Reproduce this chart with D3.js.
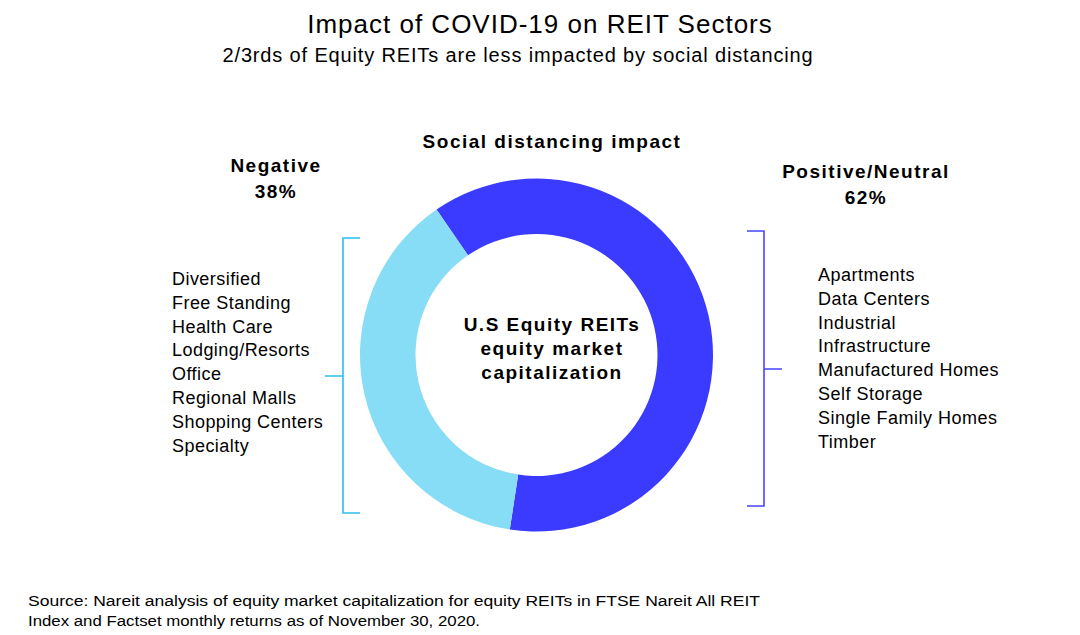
<!DOCTYPE html>
<html>
<head>
<meta charset="utf-8">
<script src="https://cdn.jsdelivr.net/npm/d3@7"></script>
<style>
  html, body { margin: 0; padding: 0; background: #fff; }
  svg { display: block; font-family: "Liberation Sans", Arial, sans-serif; }
</style>
</head>
<body>
<svg id="chart" width="1080" height="635"></svg>
<script>
// ---- data ----
const segmentNames = ["Positive/Neutral", "Negative"];
const segmentShares = [62, 38];
const segmentLabels = ["62%", "38%"];
const negativeSectors = ["Diversified", "Free Standing", "Health Care", "Lodging/Resorts",
  "Office", "Regional Malls", "Shopping Centers", "Specialty"];
const positiveSectors = ["Apartments", "Data Centers", "Industrial", "Infrastructure",
  "Manufactured Homes", "Self Storage", "Single Family Homes", "Timber"];
const titleText = "Impact of COVID-19 on REIT Sectors";
const subtitleText = "2/3rds of Equity REITs are less impacted by social distancing";
const centerLines = ["U.S Equity REITs", "equity market", "capitalization"];
const sourceLines = [
  "Source: Nareit analysis of equity market capitalization for equity REITs in FTSE Nareit All REIT",
  "Index and Factset monthly returns as of November 30, 2020."
];

// ---- style ----
const colors = d3.scaleOrdinal().domain(segmentNames).range(["#3b3bff", "#87ddf6"]);
const bracketColors = d3.scaleOrdinal().domain(segmentNames).range(["#4646ff", "#2dbdef"]);

const svg = d3.select("#chart");
const cx = 536.5, cy = 355, outerR = 176.5, innerR = 121;

// title
svg.append("text").attr("x", 540).attr("y", 33).attr("text-anchor", "middle")
  .style("font-size", "26px").style("letter-spacing", "1px").attr("fill", "#000").text(titleText);
svg.append("text").attr("x", 518).attr("y", 62).attr("text-anchor", "middle")
  .style("font-size", "20px").style("letter-spacing", "0.85px").attr("fill", "#000").text(subtitleText);

// donut
const start = -34.5 * Math.PI / 180;
const pie = d3.pie().sort(null).value(d => d.v).startAngle(start).endAngle(start + 2 * Math.PI);
const arc = d3.arc().innerRadius(innerR).outerRadius(outerR);
const pieData = pie(segmentNames.map((n, i) => ({ n, v: segmentShares[i] })));
const g = svg.append("g").attr("transform", `translate(${cx},${cy})`);
g.selectAll("path").data(pieData).join("path")
  .attr("d", arc).attr("fill", d => colors(d.data.n));

// bold headings
function bold(x, y, t) {
  svg.append("text").attr("x", x).attr("y", y).attr("text-anchor", "middle")
    .style("font-size", "19px").style("font-weight", "bold").style("letter-spacing", "1.5px")
    .attr("fill", "#000").text(t);
}
bold(552, 148, "Social distancing impact");
bold(276, 172, segmentNames[1].replace("Positive/Neutral", "") || "Negative");
bold(276, 198, segmentLabels[1]);
bold(866, 178, segmentNames[0]);
bold(866, 204, segmentLabels[0]);
centerLines.forEach((t, i) => bold(552, 331 + i * 24, t));

// lists
const rowY = d3.scaleLinear().domain([0, 1]).range([0, 23.8]);
svg.append("g").selectAll("text").data(negativeSectors).join("text")
  .attr("x", 172).attr("y", (d, i) => 285 + rowY(i))
  .style("font-size", "18px").style("letter-spacing", "0.45px").attr("fill", "#000").text(d => d);
svg.append("g").selectAll("text").data(positiveSectors).join("text")
  .attr("x", 818).attr("y", (d, i) => 281 + rowY(i))
  .style("font-size", "18px").style("letter-spacing", "0.5px").attr("fill", "#000").text(d => d);

// brackets
function bracket(x, y0, y1, dirTicks, midY, midDir, color) {
  const p = d3.path();
  p.moveTo(x + dirTicks * 17, y0); p.lineTo(x, y0); p.lineTo(x, y1); p.lineTo(x + dirTicks * 17, y1);
  p.moveTo(x, midY); p.lineTo(x + midDir * 18, midY);
  svg.append("path").attr("d", p.toString()).attr("fill", "none")
    .attr("stroke", color).attr("stroke-width", 1.6);
}
bracket(343, 238, 513, 1, 376, -1, bracketColors(segmentNames[1]));
bracket(764, 231, 506, -1, 369, 1, bracketColors(segmentNames[0]));

// source
const srcWidths = [732, 452];
sourceLines.forEach((t, i) => {
  svg.append("text").attr("x", 28).attr("y", 606 + i * 20)
    .style("font-family", "'Liberation Sans Narrow', 'Arial Narrow', 'Liberation Sans', sans-serif")
    .style("font-size", "15.5px").attr("fill", "#000")
    .attr("textLength", srcWidths[i]).attr("lengthAdjust", "spacingAndGlyphs").text(t);
});
</script>
</body>
</html>
